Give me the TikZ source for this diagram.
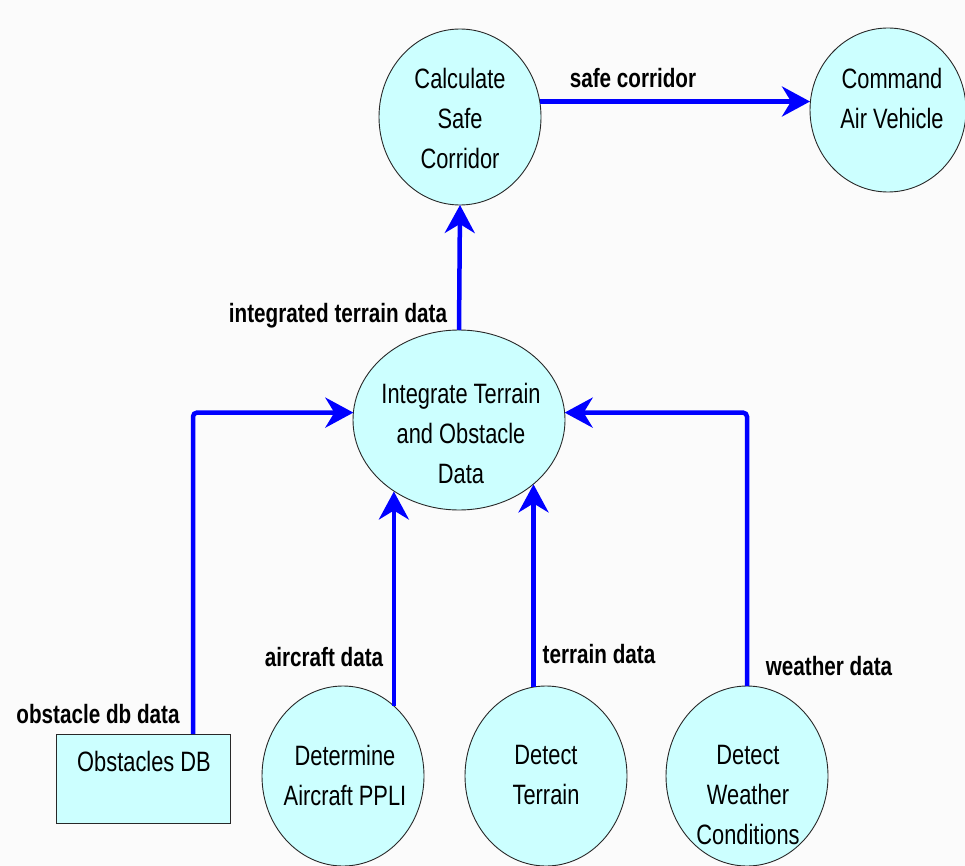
\documentclass[tikz,border=0pt]{standalone}
\usepackage{fontspec}
\setmainfont{Liberation Sans}[FakeStretch=0.78]
\usetikzlibrary{shapes.geometric,arrows.meta}
\definecolor{bubble}{RGB}{204,255,255}
\definecolor{flowblue}{RGB}{0,0,255}
\definecolor{paper}{RGB}{251,251,251}
\definecolor{rim}{RGB}{40,40,40}
\tikzset{
  process/.style={ellipse, draw=rim, line width=0.9pt, fill=bubble, outer sep=0pt, inner sep=0pt},
  store/.style={rectangle, draw=rim, line width=0.9pt, fill=bubble, outer sep=0pt, inner sep=0pt},
  caption/.style={align=center, font=\fontsize{28}{40}\selectfont, inner sep=0pt},
  flowlabel/.style={anchor=base, font=\fontsize{26.5}{30}\selectfont\bfseries, inner sep=0pt},
  flow/.style={draw=flowblue, line width=4.5pt, rounded corners=4pt,
    -{Stealth[length=28pt, width=30pt, inset=9pt]}}
}
\begin{document}
\begin{tikzpicture}[x=1pt, y=-1pt]
  \fill[paper] (0,0) rectangle (965,866);
  \useasboundingbox (0,0) rectangle (965,866);

  % processes
  \node[process, minimum width=162pt, minimum height=176pt] (calc) at (460,117) {};
  \node[process, minimum width=156pt, minimum height=164pt] (cmd) at (888,110) {};
  \node[process, minimum width=212pt, minimum height=180pt] (integ) at (459,420) {};
  \node[process, minimum width=162pt, minimum height=180pt] (ppli) at (343,776) {};
  \node[process, minimum width=162pt, minimum height=180pt] (terr) at (546,776) {};
  \node[process, minimum width=162pt, minimum height=180pt] (wx) at (747,776) {};
  \node[store, minimum width=174pt, minimum height=89pt] (db) at (143,778.5) {};

  % process captions
  \node[caption] (calctxt) at (460,118) {Calculate\\Safe\\Corridor};
  \node[caption] (cmdtxt) at (892,98) {Command\\Air Vehicle};
  \node[caption] (integtxt) at (461,433) {Integrate Terrain\\and Obstacle\\Data};
  \node[caption] (pplitxt) at (345,775) {Determine\\Aircraft PPLI};
  \node[caption] (terrtxt) at (546,775) {Detect\\Terrain};
  \node[caption] (wxtxt) at (748,795) {Detect\\Weather\\Conditions};
  \node[caption, anchor=base] (dbtxt) at (144,771) {Obstacles DB};

  % data flows
  \draw[flow] (calc.11) -- (calc.11 -| cmd.west);
  \draw[flow] (integ.north) -- (calc.south);
  \draw[flow] ([xshift=-37pt]db.north east) |- (integ.176);
  \draw[flow] (ppli.54) -- (ppli.54 |- integ.-132.5);
  \draw[flow] (terr.98.3) -- (terr.98.3 |- integ.-41);
  \draw[flow] (wx.north) |- (integ.4);

  % flow labels
  \node[flowlabel] (lsafe) at (633,88) {safe corridor};
  \node[flowlabel] (lint) at (338,322) {integrated terrain data};
  \node[flowlabel] (lobs) at (98,723) {obstacle db data};
  \node[flowlabel] (lair) at (324,666) {aircraft data};
  \node[flowlabel] (lterr) at (599,663) {terrain data};
  \node[flowlabel] (lwx) at (829,675) {weather data};
\end{tikzpicture}
\end{document}
